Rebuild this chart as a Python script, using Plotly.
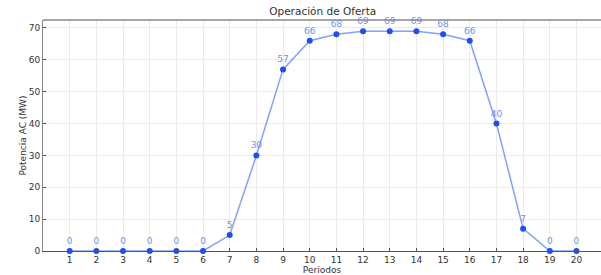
import plotly.graph_objects as go

periodos = list(range(1, 21))
potencia = [0, 0, 0, 0, 0, 0, 5, 30, 57, 66, 68, 69, 69, 69, 68, 66, 40, 7, 0, 0]
etiquetas = [str(v) for v in potencia]

fig = go.Figure()
fig.add_trace(go.Scatter(
    x=periodos, y=potencia, mode="lines",
    line=dict(color="rgba(90,130,245,0.75)", width=1.5),
    hoverinfo="skip", showlegend=False,
))
fig.add_trace(go.Scatter(
    x=periodos, y=potencia, mode="markers+text",
    marker=dict(color="#1f4ff0", size=6),
    text=etiquetas, textposition="top center",
    textfont=dict(family="DejaVu Sans", size=9, color="#6f8ff2"),
    showlegend=False, cliponaxis=False,
))

fig.update_layout(
    width=601, height=275,
    margin=dict(l=43, r=0, t=20, b=24),
    paper_bgcolor="white", plot_bgcolor="white",
    font=dict(family="DejaVu Sans", size=9, color="#333"),
    title=dict(text="Operación de Oferta", x=0.537, xanchor="center",
               y=1 - 11.5 / 275, yanchor="middle", yref="container",
               pad=dict(t=0, b=0), font=dict(size=10.5, color="#333")),
)
fig.update_xaxes(
    range=[0, 20.92], tickvals=periodos, ticktext=[str(p) for p in periodos],
    showgrid=True, gridcolor="#ebebeb", gridwidth=1,
    showline=True, linecolor="#555", linewidth=1, mirror=False,
    ticks="inside", ticklen=3, tickcolor="#555",
    title=dict(text="Periodos", standoff=2, font=dict(size=9)),
    zeroline=False, automargin=False,
)
fig.update_yaxes(
    range=[0, 72.5], tickvals=[0, 10, 20, 30, 40, 50, 60, 70],
    showgrid=True, gridcolor="#ebebeb", gridwidth=1,
    showline=True, linecolor="#888", linewidth=1,
    ticks="inside", ticklen=3, tickcolor="#555",
    title=dict(text="Potencia AC (MW)", standoff=0, font=dict(size=9)),
    zeroline=False, automargin=False,
)
fig.add_shape(type="line", xref="paper", yref="paper", x0=0, x1=1, y0=1, y1=1,
              line=dict(color="#888", width=1.5))

fig.write_html("out.html", config={"displayModeBar": False},
               post_script="document.body.style.margin='0';")
